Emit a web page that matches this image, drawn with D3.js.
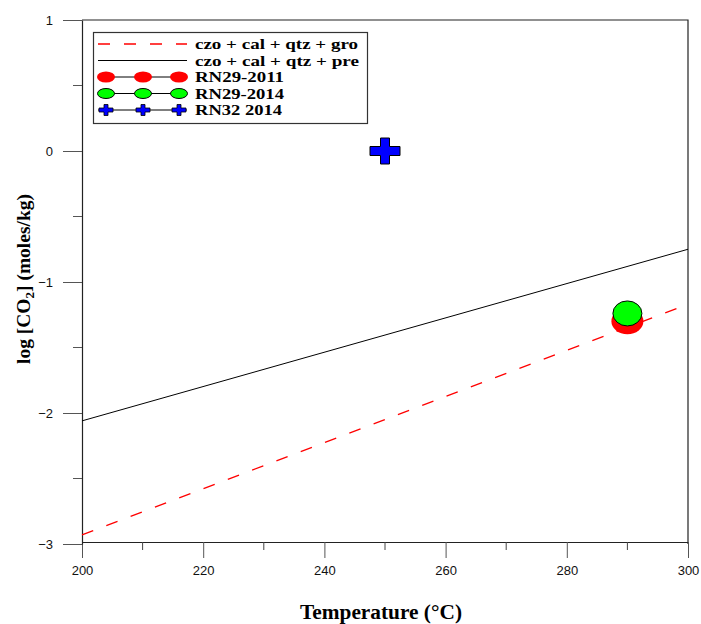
<!DOCTYPE html>
<html lang="en">
<head>
<meta charset="UTF-8">
<title>log CO2 vs Temperature</title>
<style>
  body { margin: 0; background: #fff; }
  .tick text { font-family: Arial, "Liberation Sans", sans-serif; font-size: 13px; fill: #111; }
  .ttl { font-family: "Liberation Serif", "Times New Roman", serif; font-weight: bold; fill: #000; }
</style>
</head>
<body>
<div id="chart"></div>
<script src="https://d3js.org/d3.v7.min.js"></script>
<script>
// data
var xTicks = [200, 220, 240, 260, 280, 300];
var yTicks = [-3, -2, -1, 0, 1];
var groLine = [{t: 200, v: -2.93}, {t: 300, v: -1.17}];
var preLine = [{t: 200, v: -2.06}, {t: 300, v: -0.75}];
var rn29_2011 = [{t: 290, v: -1.30}];
var rn29_2014 = [{t: 290, v: -1.24}];
var rn32_2014 = [{t: 250, v: 0.0}];
var legendNames = ["czo + cal + qtz + gro", "czo + cal + qtz + pre", "RN29-2011", "RN29-2014", "RN32 2014"];

var W = 701, H = 624;
var svg = d3.select("#chart").append("svg")
  .attr("width", W).attr("height", H);

var x = d3.scaleLinear().domain([200, 300]).range([82, 688]);
var y = d3.scaleLinear().domain([-3, 1]).range([544, 20]);

// frame top + right
svg.append("path")
  .attr("d", "M" + x(200) + "," + y(1) + "H" + x(300) + "V" + y(-3))
  .attr("fill", "none").attr("stroke", "#222").attr("stroke-width", 1.2);

// x axis
var xAxis = svg.append("g").attr("transform", "translate(0," + (y(-3) - 2) + ")");
xAxis.call(d3.axisBottom(x).tickValues(xTicks).tickSize(16).tickPadding(8).tickSizeOuter(0));
xAxis.append("g").selectAll("line")
  .data(d3.range(210, 300, 20)).enter().append("line")
  .attr("x1", d => x(d)).attr("x2", d => x(d))
  .attr("y1", 0).attr("y2", 8).attr("stroke", "#444");

// y axis
var yAxis = svg.append("g").attr("transform", "translate(" + x(200) + ",0)");
yAxis.call(d3.axisLeft(y).tickValues(yTicks).tickSize(19).tickPadding(10).tickSizeOuter(0)
  .tickFormat(d3.format("d")));
yAxis.append("g").selectAll("line")
  .data([-2.5, -1.5, -0.5, 0.5]).enter().append("line")
  .attr("x1", 0).attr("x2", -9)
  .attr("y1", d => y(d)).attr("y2", d => y(d)).attr("stroke", "#555");
svg.selectAll(".domain").attr("stroke", "#222").attr("stroke-width", 1.2);
svg.selectAll(".tick line").attr("stroke", "#555");

// lines
var line = d3.line().x(d => x(d.t)).y(d => y(d.v));
svg.append("path").datum(preLine).attr("d", line)
  .attr("fill", "none").attr("stroke", "#000").attr("stroke-width", 1);
svg.append("path").datum(groLine).attr("d", line)
  .attr("fill", "none").attr("stroke", "#ff0000").attr("stroke-width", 1.3)
  .attr("stroke-dasharray", "12,14");

function crossPath(hw, hh, t) {
  return "M" + (-t) + "," + (-hh) + "H" + t + "V" + (-t) + "H" + hw + "V" + t + "H" + t +
    "V" + hh + "H" + (-t) + "V" + t + "H" + (-hw) + "V" + (-t) + "H" + (-t) + "Z";
}

// points
svg.selectAll(".p2011").data(rn29_2011).enter().append("ellipse")
  .attr("cx", d => x(d.t)).attr("cy", d => y(d.v))
  .attr("rx", 16).attr("ry", 13).attr("fill", "#ff0000");
svg.selectAll(".p2014").data(rn29_2014).enter().append("ellipse")
  .attr("cx", d => x(d.t)).attr("cy", d => y(d.v))
  .attr("rx", 14.5).attr("ry", 12.5).attr("fill", "#00ff00")
  .attr("stroke", "#000").attr("stroke-width", 1);
svg.selectAll(".p32").data(rn32_2014).enter().append("path")
  .attr("transform", d => "translate(" + x(d.t) + "," + y(d.v) + ")")
  .attr("d", crossPath(15, 13, 4.5))
  .attr("fill", "#0000ff").attr("stroke", "#000").attr("stroke-width", 1);

// legend
var lg = svg.append("g");
lg.append("rect").attr("x", 93.5).attr("y", 32.5).attr("width", 274).attr("height", 91)
  .attr("fill", "#fff").attr("stroke", "#333").attr("stroke-width", 1.2);
var rowY = [44, 60.5, 77, 93.5, 110];
var textW = [163, 164, 89, 89, 87];
var lx0 = 98, lx1 = 187, mx = [106, 143, 179];
lg.append("line").attr("x1", lx0).attr("x2", lx1).attr("y1", rowY[0]).attr("y2", rowY[0])
  .attr("stroke", "#ff0000").attr("stroke-width", 1.3).attr("stroke-dasharray", "12,14");
for (var i = 1; i < 5; i++) {
  lg.append("line").attr("x1", lx0).attr("x2", lx1).attr("y1", rowY[i]).attr("y2", rowY[i])
    .attr("stroke", "#000").attr("stroke-width", 1);
}
mx.forEach(function(m) {
  lg.append("ellipse").attr("cx", m).attr("cy", rowY[2]).attr("rx", 9).attr("ry", 5.5)
    .attr("fill", "#ff0000");
  lg.append("ellipse").attr("cx", m).attr("cy", rowY[3]).attr("rx", 8.5).attr("ry", 5)
    .attr("fill", "#00ff00").attr("stroke", "#000").attr("stroke-width", 1);
  lg.append("path").attr("transform", "translate(" + m + "," + rowY[4] + ")")
    .attr("d", crossPath(7, 5.5, 2)).attr("fill", "#0000ff").attr("stroke", "#000").attr("stroke-width", 0.8);
});
lg.selectAll("text").data(legendNames).enter().append("text")
  .attr("class", "ttl").attr("x", 195).attr("y", (d, i) => rowY[i] + 5)
  .attr("textLength", (d, i) => textW[i]).attr("lengthAdjust", "spacingAndGlyphs")
  .style("font-size", "14px").text(d => d);

// axis titles
svg.append("text").attr("class", "ttl")
  .attr("x", 381).attr("y", 619).attr("text-anchor", "middle")
  .attr("textLength", 162).attr("lengthAdjust", "spacingAndGlyphs")
  .style("font-size", "20px").text("Temperature (°C)");
var yt = svg.append("text").attr("class", "ttl")
  .attr("transform", "translate(30,279) rotate(-90)").attr("text-anchor", "middle")
  .style("font-size", "19.5px");
yt.append("tspan").text("log [CO");
yt.append("tspan").attr("dy", 4).style("font-size", "13px").text("2");
yt.append("tspan").attr("dy", -4).text("] (moles/kg)");
</script>
</body>
</html>
